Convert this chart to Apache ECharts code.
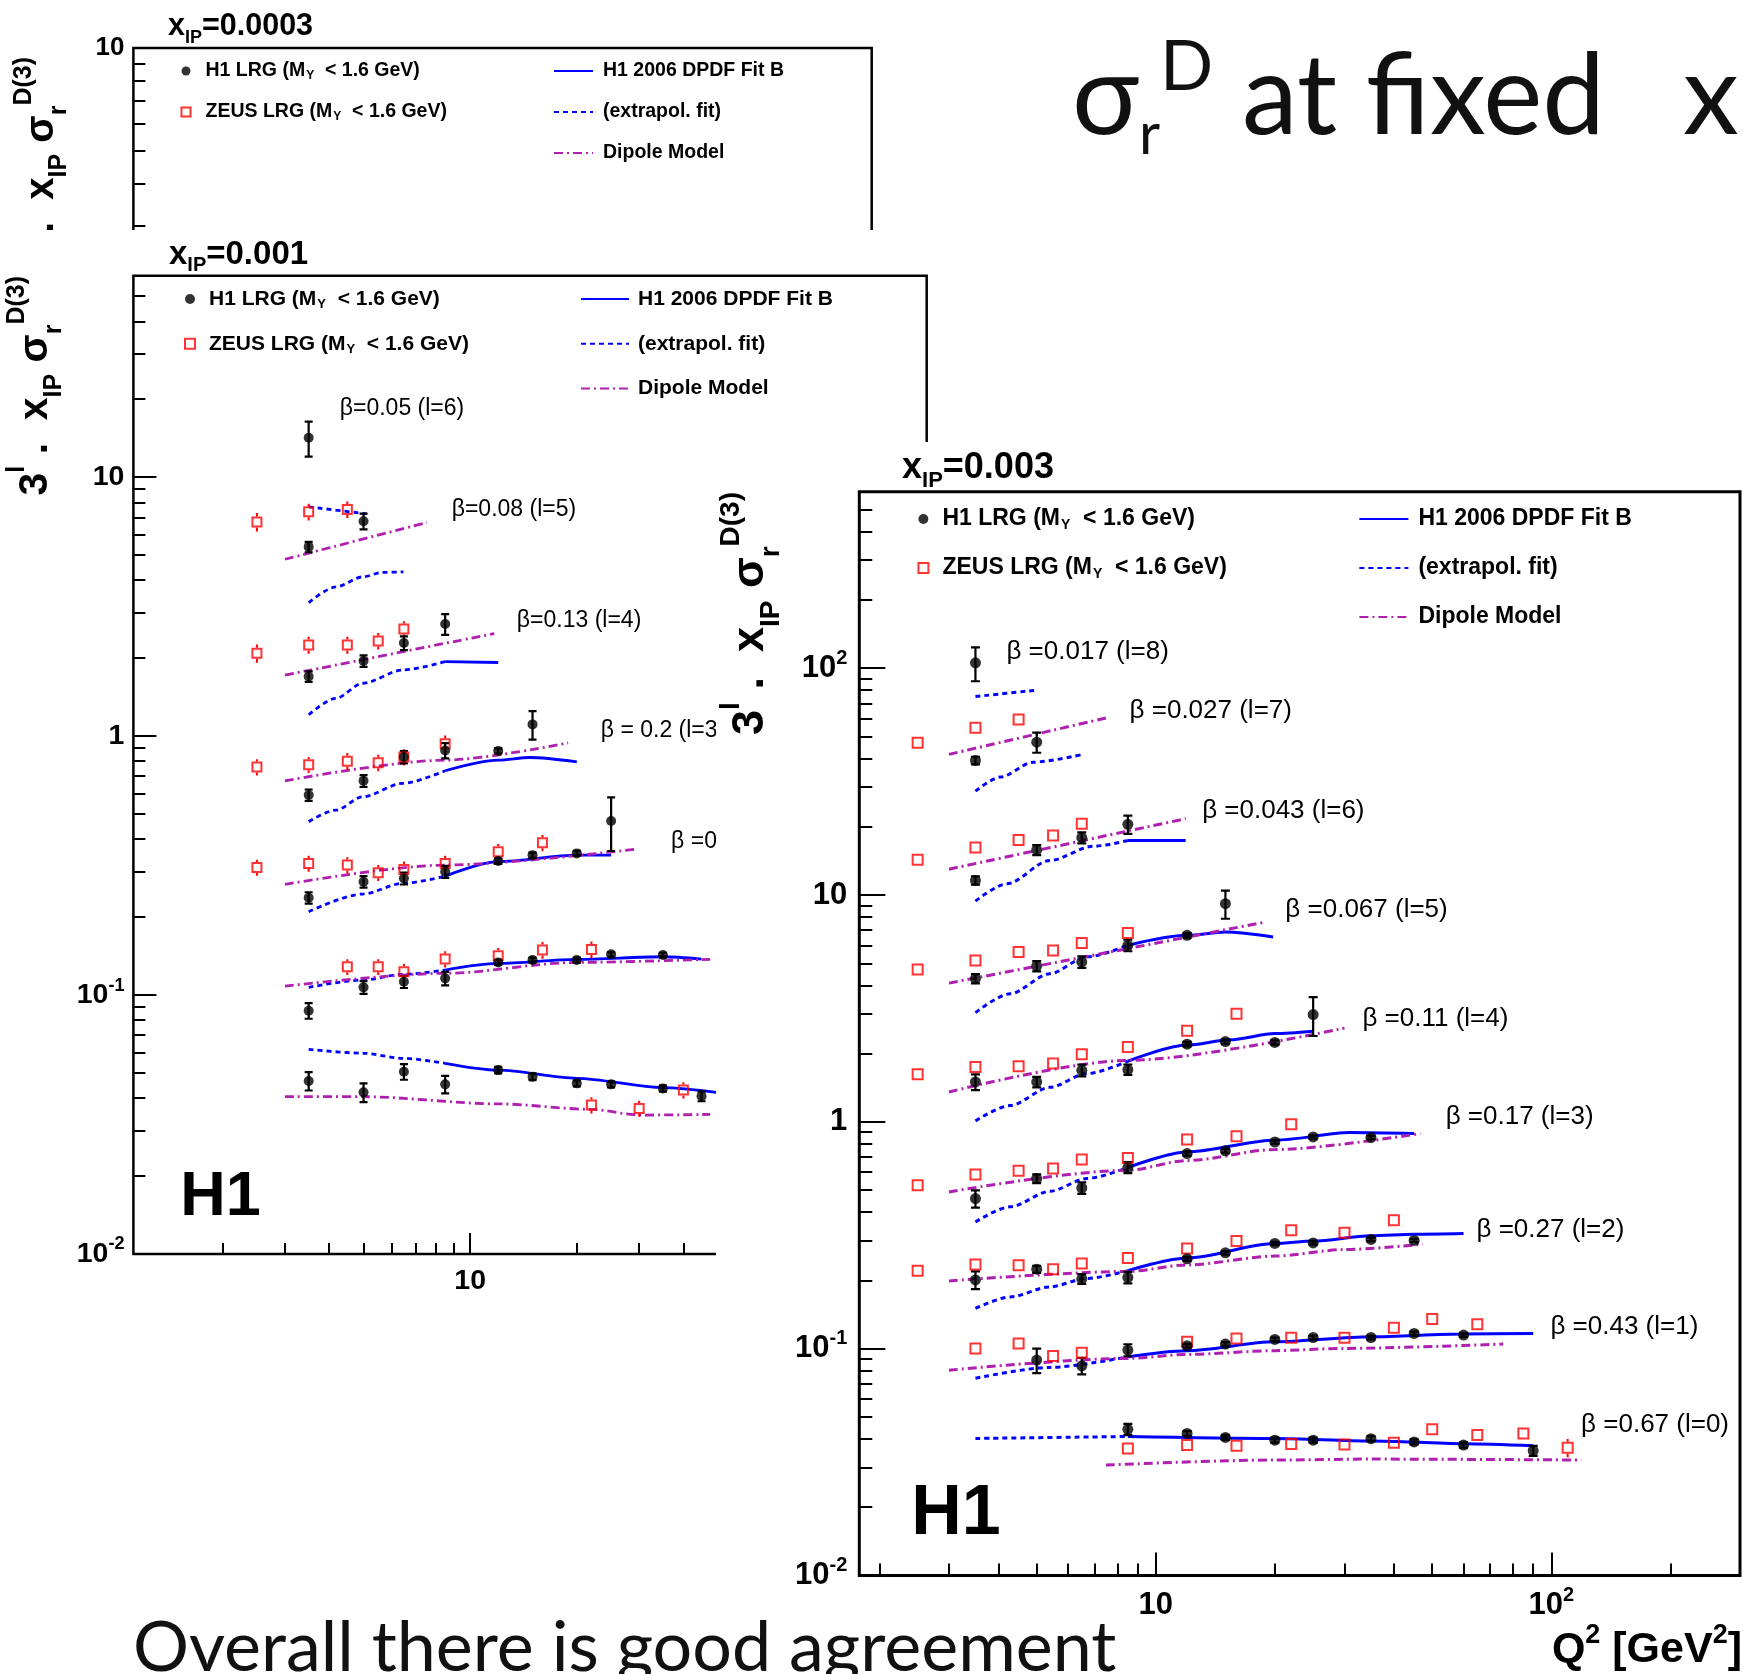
<!DOCTYPE html>
<html>
<head>
<meta charset="utf-8">
<script src="https://cdn.jsdelivr.net/npm/echarts@6.0.0/dist/echarts.min.js"></script>
<style>
  html, body { margin: 0; padding: 0; background: #fff; }
  body { width: 1743px; height: 1674px; position: relative; overflow: hidden; }
  .pane { position: absolute; }
</style>
</head>
<body>
<div id="p1" class="pane" style="left:0;top:0;width:940px;height:1100px"></div>
<div id="p2" class="pane" style="left:0;top:230px;width:940px;height:1444px;background:#fff"></div>
<div id="p3" class="pane" style="left:716px;top:442px;width:1027px;height:1232px;background:#fff"></div>
<div id="slide" class="pane" style="left:0;top:0;width:1743px;height:1674px;pointer-events:none"></div>
<script>
const FONT = '"Liberation Sans", Arial, Helvetica, sans-serif';
const SLIDE_FONT = 'Lato, "Open Sans", sans-serif';
const BLUE = '#0000ff';
const MAGENTA = '#b020b0';
const RED = '#ff0000';

// Q^2 bins [GeV^2]
const Q2_H1 = [3.5, 5, 6.5, 8.5, 12, 15, 20, 25, 35, 45, 60, 90];
const Q2_ZEUS = [2.5, 3.5, 4.5, 5.5, 6.5, 8.5, 12, 16, 22, 30, 40, 50, 65, 85, 110];

// axis tick values
const X_MAJOR = [10, 100];
const X_MINOR = [2, 3, 4, 5, 6, 7, 8, 9, 20, 30, 40, 50, 60, 70, 80, 90, 200, 300];
const Y_MAJOR = [0.01, 0.1, 1, 10, 100];
const Y_MINOR = [0.02, 0.03, 0.04, 0.05, 0.06, 0.07, 0.08, 0.09,
                 0.2, 0.3, 0.4, 0.5, 0.6, 0.7, 0.8, 0.9,
                 2, 3, 4, 5, 6, 7, 8, 9,
                 20, 30, 40, 50, 60, 70, 80, 90,
                 200, 300, 400, 500, 600, 700, 800, 900];

// ---------- x_IP = 0.001 : rows l = 6 ... 0, values are 3^l * x_IP * sigma_r^D(3) ----------
const h1_001 = [
  [14.2],
  [5.38, 6.76],
  [1.70, 1.95, 2.29, 2.71],
  [0.592, 0.672, 0.83, 0.88, 0.877, 1.11],
  [0.2375, 0.274, 0.2823, 0.2993, 0.3293, 0.347, 0.3525, 0.47],
  [0.087, 0.1071, 0.1125, 0.116, 0.1337, 0.1365, 0.1365, 0.1436, 0.1427],
  [0.0466, 0.0421, 0.0506, 0.0452, 0.0513, 0.0484, 0.0456, 0.0452, 0.0436, 0.0407]
];
const h1Err_001 = [
  [2.2],
  [0.25, 0.47],
  [0.08, 0.1, 0.14, 0.25],
  [0.03, 0.035, 0.045, 0.06, 0.02, 0.14],
  [0.012, 0.014, 0.015, 0.016, 0.008, 0.008, 0.008, 0.11],
  [0.006, 0.006, 0.006, 0.007, 0.003, 0.003, 0.003, 0.003, 0.003],
  [0.0038, 0.0035, 0.0035, 0.0035, 0.0015, 0.0015, 0.0012, 0.0012, 0.0012, 0.0018]
];
const zeus_001 = [
  [],
  [6.72, 7.35, 7.5],
  [2.09, 2.25, 2.25, 2.33, 2.59],
  [0.76, 0.775, 0.80, 0.79, 0.83, 0.935],
  [0.311, 0.3225, 0.3177, 0.2966, 0.3057, 0.3225, 0.3575, 0.3873],
  [null, null, 0.1286, 0.1286, 0.123, 0.1377, 0.1419, 0.1492, 0.15],
  [null, null, null, null, null, null, null, null, 0.0376, 0.0365, 0.043]
];
const zeusErr_001 = [
  [],
  [0.55, 0.55, 0.55],
  [0.17, 0.17, 0.17, 0.17, 0.19],
  [0.055, 0.055, 0.06, 0.058, 0.06, 0.07],
  [0.022, 0.023, 0.023, 0.021, 0.022, 0.023, 0.026, 0.028],
  [null, null, 0.009, 0.009, 0.009, 0.01, 0.01, 0.011, 0.011],
  [null, null, null, null, null, null, null, null, 0.0027, 0.0026, 0.0031]
];
const fit_001 = [
  [], [],
  [[8.5, 1.94], [12, 1.925]],
  [[8.5, 0.735], [12, 0.808], [14.7, 0.827], [20, 0.796]],
  [[8.5, 0.288], [12, 0.3276], [20, 0.347], [25, 0.347]],
  [[8.5, 0.1249], [12, 0.1325], [20, 0.1374], [35, 0.1406], [45, 0.1377]],
  [[8.5, 0.0545], [12, 0.0513], [20, 0.0477], [35, 0.0439], [50, 0.042]]
];
const ext_001 = [
  [[3.5, 7.68], [5.1, 7.22]],
  [[3.5, 3.28], [4.18, 3.77], [4.97, 4.12], [5.66, 4.29], [6.48, 4.31]],
  [[3.5, 1.21], [4.18, 1.40], [4.97, 1.60], [6.45, 1.80], [8.5, 1.94]],
  [[3.5, 0.467], [4.18, 0.518], [4.97, 0.583], [6.45, 0.657], [8.5, 0.735]],
  [[3.5, 0.2098], [4.97, 0.2455], [6.45, 0.27], [8.5, 0.288]],
  [[3.5, 0.1071], [4.97, 0.1143], [6.45, 0.1202], [8.5, 0.1249]],
  [[3.5, 0.0617], [5, 0.0596], [6.45, 0.057], [8.5, 0.0545]]
];
const dip_001 = [
  [],
  [[3, 4.82], [7.54, 6.68]],
  [[3, 1.72], [11.7, 2.49]],
  [[3, 0.672], [8.5, 0.808], [18.9, 0.942]],
  [[3, 0.2676], [8.5, 0.3177], [29.4, 0.3662]],
  [[3, 0.1083], [8.5, 0.1213], [20, 0.1337], [47.6, 0.1374]],
  [[3, 0.0405], [5, 0.0405], [12, 0.038], [22, 0.0362], [30, 0.0344], [47.6, 0.0346]]
];
const betaText_001 = ['β=0.05 (l=6)', 'β=0.08 (l=5)', 'β=0.13 (l=4)', 'β = 0.2 (l=3)', 'β =0.3 (l=2)'];
const betaAt_001 = [[4.27, 18.4], [8.84, 7.5], [13.5, 2.8], [23.3, 1.05], [36.8, 0.39]];

// ---------- x_IP = 0.003 : rows l = 8 ... 0 ----------
const h1_003 = [
  [105.6],
  [39.2, 47.2],
  [11.6, 15.8, 17.9, 20.5],
  [4.28, 4.86, 5.07, 6.0, 6.64, 9.16],
  [1.50, 1.50, 1.688, 1.70, 2.20, 2.26, 2.24, 2.97],
  [0.459, 0.562, 0.511, 0.629, 0.725, 0.745, 0.815, 0.858, 0.853],
  [0.201, 0.224, 0.203, 0.206, 0.249, 0.2645, 0.291, 0.2927, 0.303, 0.30],
  [null, 0.0891, 0.084, 0.0986, 0.103, 0.1048, 0.1099, 0.112, 0.112, 0.1168, 0.1148],
  [null, null, null, 0.0441, 0.0423, 0.0406, 0.0395, 0.0395, 0.0401, 0.0388, 0.0376, 0.0355]
];
const h1Err_003 = [
  [18],
  [1.5, 4.8],
  [0.5, 0.8, 1.0, 1.9],
  [0.2, 0.25, 0.3, 0.35, 0.15, 1.3],
  [0.12, 0.08, 0.1, 0.09, 0.05, 0.05, 0.05, 0.58],
  [0.04, 0.025, 0.03, 0.035, 0.015, 0.015, 0.015, 0.015, 0.015],
  [0.018, 0.008, 0.01, 0.012, 0.005, 0.005, 0.005, 0.005, 0.005, 0.005],
  [null, 0.011, 0.007, 0.006, 0.002, 0.002, 0.002, 0.002, 0.002, 0.002, 0.002],
  [null, null, null, 0.0025, 0.001, 0.001, 0.001, 0.001, 0.001, 0.001, 0.001, 0.0018]
];
const zeus_003 = [
  [],
  [46.9, 54.6, 59.4],
  [14.3, 16.2, 17.5, 18.3, 20.6],
  [4.69, 5.15, 5.61, 5.70, 6.14, 6.80],
  [1.62, 1.746, 1.758, 1.806, 1.985, 2.14, 2.52, 3.0],
  [0.526, 0.586, 0.608, 0.623, 0.682, 0.693, 0.836, 0.864, 0.976],
  [0.2207, 0.235, 0.233, 0.224, 0.2373, 0.2513, 0.2767, 0.2987, 0.333, 0.324, 0.368],
  [null, 0.1003, 0.1055, 0.0928, 0.096, null, 0.1072, 0.111, 0.1117, 0.1117, 0.1236, 0.135, 0.128],
  [null, null, null, null, null, 0.0363, 0.0376, 0.0373, 0.038, 0.0378, 0.0385, 0.0441, 0.0416, 0.0423, 0.0366]
];
const zeusErr_003 = [
  [],
  [1.0, 1.2, 1.3],
  [0.3, 0.35, 0.4, 0.4, 0.45],
  [0.1, 0.11, 0.12, 0.12, 0.13, 0.15],
  [0.035, 0.038, 0.04, 0.04, 0.045, 0.05, 0.055, 0.065],
  [0.012, 0.013, 0.013, 0.014, 0.015, 0.015, 0.018, 0.019, 0.021],
  [0.005, 0.005, 0.005, 0.005, 0.005, 0.0055, 0.006, 0.0065, 0.0075, 0.0075, 0.011],
  [null, 0.0022, 0.0023, 0.002, 0.0021, null, 0.0024, 0.0025, 0.0025, 0.0025, 0.0028, 0.004, 0.0035],
  [null, null, null, null, null, 0.0008, 0.0008, 0.0008, 0.0008, 0.0008, 0.0009, 0.0022, 0.0014, 0.0024, 0.0034]
];
const fit_003 = [
  [], [],
  [[8.5, 17.4], [11.9, 17.4]],
  [[8.5, 6.0], [12, 6.64], [15, 6.87], [19.8, 6.53]],
  [[8.5, 1.85], [12, 2.18], [15.4, 2.30], [20, 2.45], [25, 2.51]],
  [[8.5, 0.629], [12, 0.737], [20, 0.83], [31, 0.897], [45, 0.888]],
  [[8.5, 0.2207], [12, 0.2513], [20, 0.291], [25, 0.298], [35, 0.3145], [45, 0.3197], [60, 0.322]],
  [[8.5, 0.0921], [12, 0.098], [20, 0.1072], [35, 0.1128], [60, 0.116], [90, 0.1168]],
  [[8.5, 0.041], [20, 0.0402], [35, 0.0392], [60, 0.0381], [90, 0.0373]]
];
const ext_003 = [
  [[3.5, 75], [5, 80]],
  [[3.5, 28.7], [4.04, 33.1], [4.9, 38.5], [6.46, 41.5]],
  [[3.5, 9.4], [4.2, 11.2], [5.4, 14.2], [6.95, 16.4], [8.5, 17.4]],
  [[3.5, 3.03], [4.28, 3.67], [5.4, 4.50], [6.68, 5.33], [8.5, 6.0]],
  [[3.5, 1.01], [4.28, 1.18], [5.4, 1.42], [6.68, 1.63], [8.5, 1.85]],
  [[3.5, 0.362], [4.28, 0.422], [5.4, 0.494], [6.68, 0.562], [8.5, 0.629]],
  [[3.5, 0.1505], [4.28, 0.169], [5.4, 0.1873], [6.68, 0.2039], [8.5, 0.2207]],
  [[3.5, 0.074], [5.4, 0.0827], [8.5, 0.0921]],
  [[3.5, 0.0402], [8.5, 0.041]]
];
const dip_003 = [
  [],
  [[3, 41.7], [7.5, 60.4]],
  [[3, 13.0], [11.9, 21.7]],
  [[3, 4.09], [18.9, 7.6]],
  [[3, 1.354], [8.5, 1.866], [30, 2.59]],
  [[3, 0.491], [8.5, 0.612], [12, 0.675], [20, 0.755], [46.7, 0.888]],
  [[3, 0.199], [8.5, 0.219], [12, 0.234], [20, 0.256], [30, 0.2734], [47.3, 0.2888]],
  [[3, 0.0804], [8.5, 0.0906], [12, 0.0943], [20, 0.098], [30, 0.1003], [75.6, 0.1048]],
  [[7.48, 0.0307], [20, 0.0323], [35, 0.0326], [119, 0.0323]]
];
const betaText_003 = ['β =0.017 (l=8)', 'β =0.027 (l=7)', 'β =0.043 (l=6)', 'β =0.067 (l=5)', 'β =0.11 (l=4)',
                      'β =0.17 (l=3)', 'β =0.27 (l=2)', 'β =0.43 (l=1)', 'β =0.67 (l=0)'];
const betaAt_003 = [[4.18, 117.6], [8.56, 64.6], [13.06, 23.4], [21.2, 8.62], [33.2, 2.85],
                    [53.9, 1.05], [64.5, 0.333], [99.2, 0.125], [118.6, 0.046]];

// ---------- helpers ----------
function points(qs, rows) {
  const out = [];
  rows.forEach(r => r.forEach((v, i) => { if (v != null) out.push([qs[i], v]); }));
  return out;
}
// [Q2, low, high, central]
function bars(qs, rows, errs) {
  const out = [];
  rows.forEach((r, k) => r.forEach((v, i) => {
    if (v != null) out.push([qs[i], v - errs[k][i], v + errs[k][i], v]);
  }));
  return out;
}
// vertical error bars; `gap` leaves the inside of an open marker empty
function errorBars(data, color, width, cap, gap) {
  return {
    type: 'custom', silent: true, clip: true, z: 3,
    encode: { x: 0, y: [1, 2, 3] },
    data,
    renderItem(params, api) {
      const x = api.value(0);
      const top = api.coord([x, api.value(2)]);
      const bot = api.coord([x, api.value(1)]);
      const mid = api.coord([x, api.value(3)]);
      const style = { stroke: color, lineWidth: width };
      const seg = (y1, y2) => ({ type: 'line', shape: { x1: top[0], y1, x2: top[0], y2 }, style });
      const kids = [];
      if (gap > 0) {
        if (mid[1] - gap > top[1]) kids.push(seg(top[1], mid[1] - gap));
        if (mid[1] + gap < bot[1]) kids.push(seg(mid[1] + gap, bot[1]));
      } else {
        kids.push(seg(top[1], bot[1]));
      }
      if (cap > 0) {
        kids.push({ type: 'line', shape: { x1: top[0] - cap / 2, y1: top[1], x2: top[0] + cap / 2, y2: top[1] }, style });
        kids.push({ type: 'line', shape: { x1: bot[0] - cap / 2, y1: bot[1], x2: bot[0] + cap / 2, y2: bot[1] }, style });
      }
      return { type: 'group', children: kids };
    }
  };
}
function curve(name, data, ls) {
  return {
    type: 'line', name, data, symbol: 'none', smooth: 0.3, smoothMonotone: 'x',
    lineStyle: ls, silent: true, clip: true, z: 2
  };
}
function powLabel(v) {
  const e = Math.round(Math.log10(v));
  if (e === 0) return '1';
  if (e === 1) return '10';
  return '10{s|' + e + '}';
}
function legendText(name) {
  if (name === 'H1 LRG') return 'H1 LRG (M{sub|Y}  < 1.6 GeV)';
  if (name === 'ZEUS LRG') return 'ZEUS LRG (M{sub|Y}  < 1.6 GeV)';
  return name;
}
const NO_MARK = { color: 'rgba(0,0,0,0)', borderColor: 'rgba(0,0,0,0)', borderWidth: 0, opacity: 0 };

function panelOption(p) {
  const s = p.st;
  const series = [];
  const styles = [
    ['H1 2006 DPDF Fit B', p.fit, { color: BLUE, width: s.lw, type: 'solid' }],
    ['(extrapol. fit)', p.ext, { color: BLUE, width: s.lw, type: [5, 4] }],
    ['Dipole Model', p.dip, { color: MAGENTA, width: s.lw, type: [9, 4, 2, 4] }]
  ];
  styles.forEach(([name, rows, ls]) => {
    const used = rows.filter(r => r.length);
    if (!used.length) series.push(curve(name, [], ls));
    used.forEach(r => series.push(curve(name, r, ls)));
  });
  series.push(errorBars(bars(Q2_ZEUS, p.zeus, p.zeusErr), RED, 2, 0, s.sq / 2 + 1));
  series.push({
    type: 'scatter', name: 'ZEUS LRG', symbol: 'rect', symbolSize: s.sq, z: 4, silent: true,
    itemStyle: { color: 'rgba(0,0,0,0)', borderColor: RED, borderWidth: 2 },
    data: points(Q2_ZEUS, p.zeus)
  });
  series.push(errorBars(bars(Q2_H1, p.h1, p.h1Err), '#000', 2.2, s.cap, 0));
  series.push({
    type: 'scatter', name: 'H1 LRG', symbol: 'circle', symbolSize: s.dot, z: 5, silent: true,
    itemStyle: { color: '#000' },
    data: points(Q2_H1, p.h1)
  });
  if (p.betaText) {
    series.push({
      type: 'scatter', name: 'beta', silent: true, symbolSize: 1, z: 6,
      itemStyle: { color: 'rgba(0,0,0,0)' },
      data: p.betaText.map((t, i) => ({ name: t, value: p.betaAt[i] })),
      label: { show: true, position: 'right', distance: 0, formatter: '{b}', color: '#000', opacity: 1,
               fontSize: s.beta, fontFamily: FONT, textBorderWidth: 0 }
    });
  }
  const supRich = { s: { fontSize: Math.round(s.tick * 0.64), fontWeight: 'bold', fontFamily: FONT, color: '#000',
                         verticalAlign: 'top', lineHeight: Math.round(s.tick * 0.7) } };
  const logAxis = (extra) => Object.assign({
    type: 'log', logBase: 10, gridIndex: 0, axisLine: { show: false }, splitLine: { show: false }
  }, extra);
  const subRich = { sub: { fontSize: Math.round(s.leg * 0.62), fontWeight: 'bold', fontFamily: FONT, color: '#000',
                           verticalAlign: 'bottom', lineHeight: Math.round(s.leg * 0.7), padding: [0, 0, 0, 1] } };
  const legText = { fontSize: s.leg, fontWeight: 'bold', fontFamily: FONT, color: '#000', lineHeight: s.legLine, rich: subRich };
  const graphic = [
    {
      type: 'text', x: p.ytitle[0], y: p.ytitle[1], rotation: Math.PI / 2, silent: true,
      style: {
        text: '{b|3}{sp|l}{b| .  x}{sb|IP}{b| σ}{sb|r}{sp|D(3)}',
        align: 'right', verticalAlign: 'middle', fill: '#000',
        rich: {
          b: { fontSize: s.ylab, fontWeight: 'bold', fontFamily: FONT, lineHeight: Math.round(s.ylab * 1.5) },
          sp: { fontSize: Math.round(s.ylab * 0.62), fontWeight: 'bold', fontFamily: FONT, verticalAlign: 'top',
                lineHeight: Math.round(s.ylab * 0.68) },
          sb: { fontSize: Math.round(s.ylab * 0.62), fontWeight: 'bold', fontFamily: FONT, verticalAlign: 'bottom',
                lineHeight: Math.round(s.ylab * 0.68) }
        }
      }
    }
  ];
  if (p.logo) {
    graphic.push({
      type: 'text', x: p.logo[0], y: p.logo[1], silent: true,
      style: { text: 'H1', fill: '#000', font: 'bold ' + s.logo + 'px ' + FONT, align: 'center', verticalAlign: 'middle' }
    });
  }
  if (p.xtitle) {
    graphic.push({
      type: 'text', x: p.xtitle[0], y: p.xtitle[1], silent: true,
      style: {
        text: '{b|Q}{sp|2}{b| [GeV}{sp|2}{b|]}', align: 'right', verticalAlign: 'middle', fill: '#000',
        rich: {
          b: { fontSize: s.xlab, fontWeight: 'bold', fontFamily: FONT, lineHeight: Math.round(s.xlab * 1.3) },
          sp: { fontSize: Math.round(s.xlab * 0.62), fontWeight: 'bold', fontFamily: FONT, verticalAlign: 'top',
                lineHeight: Math.round(s.xlab * 0.7) }
        }
      }
    });
  }
  return {
    animation: false,
    backgroundColor: p.bg,
    title: {
      text: 'x{sub|IP}=' + p.xip, left: p.title[0], top: p.title[1], padding: 0,
      textStyle: { fontSize: s.title, fontWeight: 'bold', fontFamily: FONT, color: '#000', lineHeight: s.title * 1.3,
        rich: { sub: { fontSize: Math.round(s.title * 0.6), fontWeight: 'bold', fontFamily: FONT, color: '#000',
                       verticalAlign: 'bottom', lineHeight: Math.round(s.title * 0.6) } } }
    },
    grid: Object.assign({ show: true, borderColor: '#000', borderWidth: s.frame, backgroundColor: 'rgba(0,0,0,0)',
                          containLabel: false, outerBoundsMode: 'none' }, p.grid),
    legend: [
      {
        data: [{ name: 'H1 LRG', icon: 'circle' },
               { name: 'ZEUS LRG', icon: 'rect', itemStyle: { color: 'rgba(0,0,0,0)', borderColor: RED, borderWidth: 2 } }],
        orient: 'vertical', left: p.legA[0], top: p.legA[1], padding: 0,
        itemWidth: s.legIcon, itemHeight: s.legIcon, itemGap: s.legGap, selectedMode: false,
        formatter: legendText, textStyle: Object.assign({ padding: [0, 0, 0, p.legA[2]] }, legText)
      },
      {
        data: [{ name: 'H1 2006 DPDF Fit B', itemStyle: NO_MARK },
               { name: '(extrapol. fit)', itemStyle: NO_MARK },
               { name: 'Dipole Model', itemStyle: NO_MARK }],
        orient: 'vertical', left: p.legB[0], top: p.legB[1], padding: 0,
        itemWidth: p.legB[3], itemHeight: 10, itemGap: s.legGap, selectedMode: false,
        formatter: legendText, textStyle: Object.assign({ padding: [0, 0, 0, p.legB[2]] }, legText)
      }
    ],
    xAxis: [
      logAxis({
        min: p.x[0], max: p.x[1], position: 'bottom',
        axisTick: { show: true, inside: true, length: s.xMaj, customValues: X_MAJOR, lineStyle: { color: '#000', width: 2 } },
        axisLabel: { show: true, customValues: X_MAJOR, margin: s.xMargin, formatter: powLabel, color: '#000',
                     fontSize: s.tick, fontWeight: 'bold', fontFamily: FONT, lineHeight: Math.round(s.tick * 1.3), rich: supRich }
      }),
      logAxis({
        min: p.x[0], max: p.x[1], position: 'bottom', offset: 0,
        axisTick: { show: true, inside: true, length: s.xMin, customValues: X_MINOR, lineStyle: { color: '#000', width: 2 } },
        axisLabel: { show: false }
      })
    ],
    yAxis: [
      logAxis({
        min: p.y[0], max: p.y[1], position: 'left',
        axisTick: { show: true, inside: true, length: s.yMaj, customValues: Y_MAJOR, lineStyle: { color: '#000', width: 2 } },
        axisLabel: { show: true, customValues: Y_MAJOR, margin: s.yMargin, formatter: powLabel, color: '#000',
                     fontSize: s.tick, fontWeight: 'bold', fontFamily: FONT, lineHeight: Math.round(s.tick * 1.3), rich: supRich }
      }),
      logAxis({
        min: p.y[0], max: p.y[1], position: 'left', offset: 0,
        axisTick: { show: true, inside: true, length: s.yMin, customValues: Y_MINOR, lineStyle: { color: '#000', width: 2 } },
        axisLabel: { show: false }
      })
    ],
    graphic,
    series
  };
}

const STYLE_1 = { lw: 2.6, sq: 8.5, dot: 9, cap: 8, beta: 21, tick: 26, leg: 19.5, legLine: 22, legGap: 19, legIcon: 9,
                  title: 30.5, frame: 2.5, xMaj: 22, xMin: 11, yMaj: 24, yMin: 12, xMargin: 10, yMargin: 9, ylab: 40, logo: 60 };
const STYLE_2 = { lw: 2.8, sq: 9, dot: 10, cap: 8, beta: 23, tick: 28.5, leg: 21, legLine: 24, legGap: 20.8, legIcon: 10,
                  title: 33, frame: 2.5, xMaj: 21, xMin: 11, yMaj: 23, yMin: 12, xMargin: 9, yMargin: 9, ylab: 41, logo: 63 };
const STYLE_3 = { lw: 3, sq: 10, dot: 11, cap: 9, beta: 26, tick: 31, leg: 23, legLine: 26, legGap: 23, legIcon: 10,
                  title: 36, frame: 3, xMaj: 23, xMin: 12, yMaj: 26, yMin: 13, xMargin: 10, yMargin: 12, ylab: 45, logo: 70,
                  xlab: 43 };

const panel1 = {
  xip: '0.0003', bg: 'rgba(0,0,0,0)', st: STYLE_1,
  grid: { left: 133.4, top: 48, width: 738.3, height: 1020 },
  x: [1.12, 194.5], y: [0.01, 10],
  title: [168, 7], legA: [180.5, 60, 10], legB: [553, 60, 5, 39], ytitle: [42, 57],
  h1: [], h1Err: [], zeus: [], zeusErr: [], fit: [], ext: [], dip: []
};
const panel2 = {
  xip: '0.001', bg: '#fff', st: STYLE_2,
  grid: { left: 133.4, top: 45.7, width: 793.3, height: 978.3 },
  x: [1.12, 194.5], y: [0.01, 60],
  title: [169, 3], legA: [184, 57, 9], legB: [580, 57, 4, 48], ytitle: [36, 46], logo: [220.5, 968],
  h1: h1_001, h1Err: h1Err_001, zeus: zeus_001, zeusErr: zeusErr_001,
  fit: fit_001, ext: ext_001, dip: dip_001, betaText: betaText_001, betaAt: betaAt_001
};
const panel3 = {
  xip: '0.003', bg: '#fff', st: STYLE_3,
  grid: { left: 143.3, top: 49.7, width: 880.7, height: 1083.8 },
  x: [1.78, 300], y: [0.01, 600],
  title: [186, 3], legA: [201.4, 64, 9], legB: [642.4, 64, 5, 49], ytitle: [35, 50], logo: [240, 1073],
  xtitle: [1026, 1208],
  h1: h1_003, h1Err: h1Err_003, zeus: zeus_003, zeusErr: zeusErr_003,
  fit: fit_003, ext: ext_003, dip: dip_003, betaText: betaText_003, betaAt: betaAt_003
};

echarts.init(document.getElementById('p1')).setOption(panelOption(panel1));
echarts.init(document.getElementById('p2')).setOption(panelOption(panel2));
echarts.init(document.getElementById('p3')).setOption(panelOption(panel3));

// slide heading and closing remark
echarts.init(document.getElementById('slide')).setOption({
  animation: false,
  backgroundColor: 'rgba(0,0,0,0)',
  graphic: [
    {
      type: 'text', x: 1072, y: 98, silent: true,
      style: {
        text: '{s|σ}{r|r}{d|D}{t| at fixed}{x|x}',
        verticalAlign: 'middle', fill: '#111',
        rich: {
          s: { fontSize: 112, fontFamily: SLIDE_FONT, lineHeight: 132 },
          r: { fontSize: 58, fontFamily: SLIDE_FONT, verticalAlign: 'bottom', lineHeight: 64 },
          d: { fontSize: 70, fontFamily: SLIDE_FONT, verticalAlign: 'top', lineHeight: 84 },
          t: { fontSize: 112, fontFamily: SLIDE_FONT, lineHeight: 132 },
          x: { fontSize: 112, fontFamily: SLIDE_FONT, lineHeight: 132, padding: [0, 0, 0, 78] }
        }
      }
    },
    {
      type: 'text', x: 133, y: 1648, silent: true,
      style: { text: 'Overall there is good agreement', fill: '#111',
               font: '70px ' + SLIDE_FONT, verticalAlign: 'middle' }
    }
  ]
});
</script>
</body>
</html>
